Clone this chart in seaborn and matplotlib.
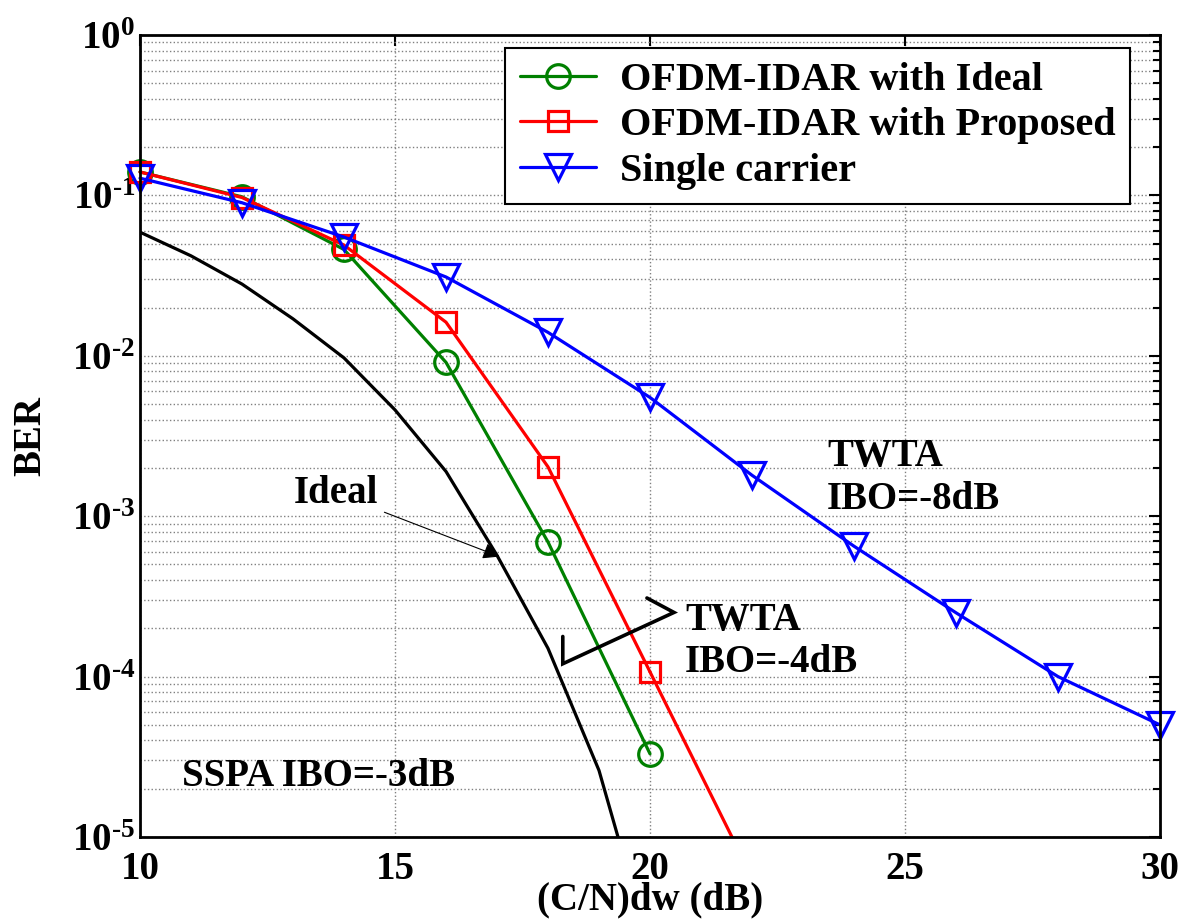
import numpy as np
import pandas as pd
import matplotlib
matplotlib.use("Agg")
import matplotlib.pyplot as plt
import seaborn as sns
from matplotlib.ticker import LogLocator, NullFormatter, FixedLocator, FuncFormatter

# ---- data ----
cn_ofdm = [10, 12, 14, 16, 18, 20]
ber_ideal_ofdm = [0.14, 0.098, 0.046, 0.0091, 6.9e-4, 3.3e-5]
cn_prop = [10, 12, 14, 16, 18, 20, 22]
ber_proposed = [0.14, 0.097, 0.049, 0.0162, 0.00203, 1.07e-4, 5.6e-6]
cn_single = [10, 12, 14, 16, 18, 20, 22, 24, 26, 28, 30]
ber_single = [0.128, 0.090, 0.055, 0.031, 0.014, 0.0055, 0.0018, 6.5e-4, 2.5e-4, 1.0e-4, 5.0e-5]
cn_ideal = [10, 11, 12, 13, 14, 15, 16, 17, 18, 19, 20]
ber_ideal = [0.059, 0.042, 0.028, 0.017, 0.0097, 0.0046, 0.0019, 5.7e-4, 1.5e-4, 2.6e-5, 2.0e-6]

legend_labels = ["OFDM-IDAR with Ideal", "OFDM-IDAR with Proposed", "Single carrier"]
x_ticks = [10, 15, 20, 25, 30]

sns.set_style("white")
plt.rcParams['font.family'] = ['Liberation Serif', 'DejaVu Serif']
plt.rcParams['font.weight'] = 'bold'
plt.rcParams['text.color'] = 'black'
plt.rcParams['axes.labelcolor'] = 'black'
plt.rcParams['xtick.color'] = 'black'
plt.rcParams['ytick.color'] = 'black'
plt.rcParams['axes.unicode_minus'] = False
plt.rcParams['mathtext.fontset'] = 'custom'
plt.rcParams['mathtext.rm'] = 'Liberation Serif:bold'
plt.rcParams['mathtext.it'] = 'Liberation Serif:bold'
plt.rcParams['mathtext.bf'] = 'Liberation Serif:bold'

fig = plt.figure(figsize=(11.79, 9.22), dpi=100)
ax = fig.add_axes([140/1179, 85/922, 1020/1179, 802/922])
ax.set_yscale('log')
ax.set_xlim(10, 30)
ax.set_ylim(1e-5, 1)

lw = 2.3
ms = 17
mew = 2.3

# black ideal curve (clipped)
sns.lineplot(x=cn_ideal, y=ber_ideal, ax=ax, color='black', linewidth=lw, legend=False)

# green
sns.lineplot(x=cn_ofdm, y=ber_ideal_ofdm, ax=ax, color='#008000', linewidth=lw,
             marker='o', markersize=ms, markerfacecolor='none', markeredgecolor='#008000',
             markeredgewidth=mew, label=legend_labels[0], clip_on=False)
# red (markers up to 20 dB, line continues and is clipped)
n_in = sum(1 for v in cn_prop if v <= 20)
sns.lineplot(x=cn_prop[:n_in], y=ber_proposed[:n_in], ax=ax, color='#ff0000', linewidth=lw,
             marker='s', markersize=ms - 2, markerfacecolor='none', markeredgecolor='#ff0000',
             markeredgewidth=mew, label=legend_labels[1], clip_on=False)
sns.lineplot(x=cn_prop[n_in - 1:], y=ber_proposed[n_in - 1:], ax=ax, color='#ff0000',
             linewidth=lw, legend=False)
# blue
sns.lineplot(x=cn_single, y=ber_single, ax=ax, color='#0000ff', linewidth=lw,
             marker='v', markersize=ms + 2, markerfacecolor='none', markeredgecolor='#0000ff',
             markeredgewidth=mew, label=legend_labels[2], clip_on=False)

# grid & ticks
def log_fmt(v, p):
    e = int(round(np.log10(v)))
    s = str(e).replace('-', '\u2010')
    return r'$\mathdefault{10^{%s}}$' % s

ax.xaxis.set_major_locator(FixedLocator(x_ticks))
ax.yaxis.set_major_locator(LogLocator(base=10, numticks=10))
ax.yaxis.set_major_formatter(FuncFormatter(log_fmt))
ax.yaxis.set_minor_locator(LogLocator(base=10, subs=np.arange(2, 10), numticks=100))
ax.yaxis.set_minor_formatter(NullFormatter())
ax.grid(True, which='major', axis='both', color='#808080', linestyle=':', linewidth=1.0)
ax.grid(True, which='minor', axis='y', color='#808080', linestyle=':', linewidth=1.0)
ax.tick_params(axis='both', which='both', direction='in', top=True, right=True,
               labelsize=28, width=1.5)
ax.tick_params(axis='both', which='major', length=8)
ax.tick_params(axis='y', which='minor', length=5)
ax.tick_params(axis='x', which='major', pad=10)
for sp in ax.spines.values():
    sp.set_color('black')
    sp.set_linewidth(2)
for lab in ax.get_xticklabels() + ax.get_yticklabels():
    lab.set_fontweight('bold')

ax.set_xlabel('(C/N)dw (dB)', fontsize=28, fontweight='bold', labelpad=-5)
ax.set_ylabel('BER', fontsize=28, fontweight='bold', labelpad=16)

leg = ax.legend(loc='upper right', bbox_to_anchor=(0.9706, 0.984), borderaxespad=0,
                fontsize=29, frameon=True, fancybox=False, framealpha=1, edgecolor='black',
                handlelength=1.9, borderpad=0.35, labelspacing=0.2, handletextpad=0.6)
leg.get_frame().set_linewidth(1.5)
for t in leg.get_texts():
    t.set_fontweight('bold')

# annotations
tfs = 28
ax.annotate('Ideal', xy=(17.05, 5.6e-4), xytext=(13.85, 10**-2.86),
            fontsize=tfs, fontweight='bold', ha='center', va='center',
            arrowprops=dict(arrowstyle='-|>', color='black', lw=0.8,
                            mutation_scale=25, shrinkA=2, shrinkB=0))
ax.plot([19.94, 20.47, 18.29, 18.29], [10**-3.51, 10**-3.60, 10**-3.92, 10**-3.75],
        color='black', linewidth=2.6, solid_joinstyle='miter')
ax.text(20.69, 10**-3.78, 'TWTA\nIBO=-4dB', fontsize=tfs, fontweight='bold',
        ha='left', va='center', linespacing=1.2)
ax.text(23.47, 10**-2.76, 'TWTA\nIBO=-8dB', fontsize=tfs, fontweight='bold',
        ha='left', va='center', linespacing=1.2)
ax.text(10.82, 10**-4.62, 'SSPA IBO=-3dB', fontsize=tfs, fontweight='bold',
        ha='left', va='center')

fig.savefig('out.png', dpi=100)
